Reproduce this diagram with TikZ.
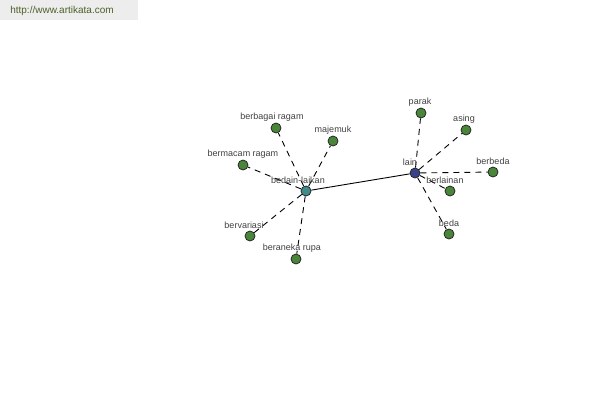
\documentclass[tikz,border=0pt]{standalone}
\usepackage{fontspec}
\setmainfont{Liberation Sans}
\definecolor{leaf}{RGB}{74,134,58}
\definecolor{hubA}{RGB}{64,140,140}
\definecolor{hubB}{RGB}{56,66,140}
\definecolor{urlgreen}{RGB}{76,96,40}
\tikzset{
  word/.style={circle,draw=black!85,line width=0.8pt,fill=leaf,inner sep=0pt,minimum size=10pt},
  link/.style={draw=black,line width=0.9pt,dash pattern=on 6pt off 5pt},
  tag/.style={color=black!75,font=\fontsize{9}{10}\selectfont,inner sep=0pt}
}
\begin{document}
\begin{tikzpicture}[x=1pt,y=-1pt]
    \useasboundingbox (0,0) rectangle (600,400);
    \fill[black!7] (0,0) rectangle (138,20);
    \node[color=urlgreen,font=\fontsize{10}{12}\selectfont] (url) at (62,11) {http://www.artikata.com};

    \node[word,fill=hubA] (bedainlaikan) at (306,191) {};
    \node[word,fill=hubB] (lain) at (415,173) {};
    \node[word] (berbagairagam) at (276,128) {};
    \node[word] (majemuk) at (333,141) {};
    \node[word] (bermacamragam) at (243,165) {};
    \node[word] (bervariasi) at (250,236) {};
    \node[word] (beranekarupa) at (296,259) {};
    \node[word] (parak) at (421,113) {};
    \node[word] (asing) at (466,130) {};
    \node[word] (berbeda) at (493,172) {};
    \node[word] (berlainan) at (450,191) {};
    \node[word] (beda) at (449,234) {};

    \draw[line width=0.9pt] (bedainlaikan) -- (lain);
    \foreach \w in {berbagairagam,majemuk,bermacamragam,bervariasi,beranekarupa}
      \draw[link] (bedainlaikan) -- (\w);
    \foreach \w in {parak,asing,berbeda,berlainan,beda}
      \draw[link] (lain) -- (\w);

    \node[tag] (tbedainlaikan) at (298,180) {bedain-laikan};
    \node[tag] (tlain) at (410,162) {lain};
    \node[tag] (tberbagairagam) at (272,117) {berbagai ragam};
    \node[tag] (tmajemuk) at (333,130) {majemuk};
    \node[tag] (tbermacamragam) at (243,154) {bermacam ragam};
    \node[tag] (tbervariasi) at (244,225) {bervariasi};
    \node[tag] (tberanekarupa) at (292,248) {beraneka rupa};
    \node[tag] (tparak) at (420,102) {parak};
    \node[tag] (tasing) at (464,119) {asing};
    \node[tag] (tberbeda) at (493,161) {berbeda};
    \node[tag] (tberlainan) at (445,180) {berlainan};
    \node[tag] (tbeda) at (449,223) {beda};
\end{tikzpicture}
\end{document}
